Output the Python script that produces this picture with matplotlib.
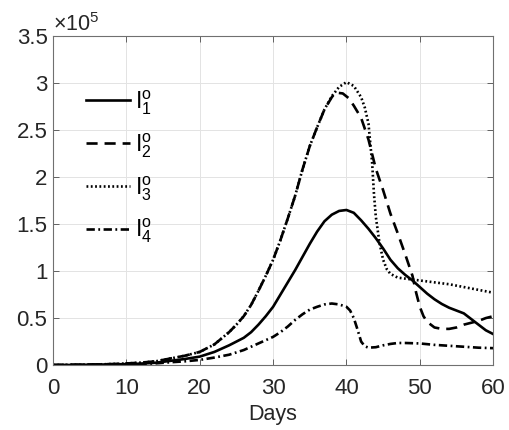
import matplotlib
matplotlib.use("Agg")
import matplotlib.pyplot as plt
from matplotlib.ticker import FuncFormatter

plt.rcParams['font.family'] = ['Liberation Sans', 'DejaVu Sans']
plt.rcParams['mathtext.fontset'] = 'custom'
plt.rcParams['mathtext.rm'] = 'Liberation Sans'
plt.rcParams['mathtext.it'] = 'Liberation Sans'
plt.rcParams['lines.scale_dashes'] = False

# values in units of 1e5
days_up = [0, 2, 4, 6, 8, 10, 12, 14, 16, 18, 20, 22, 24, 25, 26, 27, 28, 29,
           30, 31, 32, 33, 34, 35, 36, 37]
up = [0.0, 0.002, 0.004, 0.007, 0.011, 0.017, 0.026, 0.04, 0.07, 0.10, 0.14,
      0.22, 0.35, 0.43, 0.52, 0.64, 0.79, 0.95, 1.12, 1.33, 1.56, 1.80, 2.08,
      2.33, 2.53, 2.72]

days_i3_tail = [38, 39, 40, 41, 42, 42.5, 43, 43.5, 43.75, 44, 44.5, 45, 45.5,
                46, 47, 48, 50, 52, 54, 56, 58, 60]
i3_tail = [2.86, 2.96, 3.01, 2.97, 2.85, 2.74, 2.57, 2.15, 1.82, 1.58, 1.30,
           1.12, 1.02, 0.97, 0.93, 0.92, 0.90, 0.88, 0.86, 0.83, 0.80, 0.77]

days_i2_tail = [38, 38.5, 39.5, 40.3, 41, 42, 43, 44, 45, 46, 47, 48, 49, 49.5,
                50, 50.5, 51, 52, 53, 54, 55, 56, 57, 58, 59, 60]
i2_tail = [2.85, 2.90, 2.89, 2.84, 2.76, 2.63, 2.40, 2.09, 1.86, 1.61, 1.40,
           1.18, 0.95, 0.77, 0.62, 0.52, 0.46, 0.40, 0.385, 0.385, 0.40, 0.43,
           0.45, 0.47, 0.50, 0.52]

days_i1 = [0, 2, 4, 6, 8, 10, 12, 14, 16, 18, 20, 22, 24, 26, 27, 28, 29, 30,
           31, 32, 33, 34, 35, 36, 37, 38, 39, 40, 41, 42, 43, 44, 45, 46, 47,
           48, 49, 50, 51, 52, 53, 54, 55, 56, 57, 58, 59, 60]
i1 = [0.0, 0.001, 0.003, 0.005, 0.007, 0.01, 0.015, 0.025, 0.045, 0.065, 0.09,
      0.14, 0.21, 0.29, 0.35, 0.43, 0.52, 0.62, 0.75, 0.88, 1.01, 1.15, 1.29,
      1.42, 1.53, 1.60, 1.64, 1.65, 1.62, 1.54, 1.45, 1.35, 1.24, 1.12, 1.03,
      0.96, 0.90, 0.83, 0.76, 0.70, 0.65, 0.61, 0.58, 0.55, 0.49, 0.43, 0.37,
      0.33]

days_i4 = [0, 2, 4, 6, 8, 10, 12, 14, 16, 18, 20, 22, 24, 26, 28, 30, 31, 32,
           33, 34, 35, 36, 37, 38, 39, 40, 40.5, 41, 41.5, 42, 42.5, 43, 44, 45,
           46, 47, 48, 50, 52, 54, 56, 58, 60]
i4 = [0.0, 0.001, 0.002, 0.004, 0.006, 0.008, 0.012, 0.018, 0.03, 0.04, 0.055,
      0.08, 0.11, 0.16, 0.23, 0.30, 0.35, 0.41, 0.48, 0.54, 0.59, 0.62, 0.645,
      0.655, 0.645, 0.62, 0.58, 0.50, 0.38, 0.25, 0.20, 0.185, 0.19, 0.21,
      0.225, 0.235, 0.235, 0.23, 0.215, 0.205, 0.195, 0.185, 0.18]

labels = [r'$\mathregular{I_1^o}$', r'$\mathregular{I_2^o}$',
          r'$\mathregular{I_3^o}$', r'$\mathregular{I_4^o}$']
xticks = [0, 10, 20, 30, 40, 50, 60]
yticks = [0, 0.5, 1, 1.5, 2, 2.5, 3, 3.5]

fig = plt.figure(figsize=(5.1, 4.3), dpi=100)
ax = fig.add_axes([0.104, 0.151, 0.863, 0.765])

lw = 1.9
d_i2 = days_up + days_i2_tail
v_i2 = up + i2_tail
d_i3 = days_up + days_i3_tail
v_i3 = up + i3_tail

ax.plot(days_i1, i1, color='k', lw=lw, label=labels[0])
ax.plot(d_i2, v_i2, color='k', lw=lw, dashes=(8, 5), label=labels[1])
ax.plot(d_i3, v_i3, color='k', lw=lw, dashes=(1.3, 1.8), label=labels[2])
ax.plot(days_i4, i4, color='k', lw=lw, dashes=(6, 2.5, 1.3, 2.5), label=labels[3])

ax.set_xlim(0, 60)
ax.set_ylim(0, 3.5)
ax.set_xticks(xticks)
ax.set_yticks(yticks)
ax.yaxis.set_major_formatter(FuncFormatter(lambda v, p: '%g' % v))
ax.grid(True, color='#e3e3e3', lw=0.7)
ax.set_axisbelow(True)
ax.tick_params(direction='in', length=4, width=0.7, top=True, right=True,
               labelsize=16, colors='#606060', labelcolor='#262626')
ax.tick_params(axis='x', pad=9)
ax.tick_params(axis='y', pad=4)
for s in ax.spines.values():
    s.set_color('#707070')
    s.set_linewidth(0.8)

ax.set_xlabel('Days', fontsize=15.5, color='#262626', labelpad=4)
ax.text(0.0, 1.0, r'$\mathregular{\times10^5}$', transform=ax.transAxes,
        fontsize=15.5, color='#262626', ha='left', va='bottom')

leg = ax.legend(loc='upper left', bbox_to_anchor=(0.055, 0.87), frameon=False,
                fontsize=16.5, handlelength=1.9, handletextpad=0.2,
                labelspacing=0.62, borderaxespad=0)

fig.savefig('out.png', dpi=100)
